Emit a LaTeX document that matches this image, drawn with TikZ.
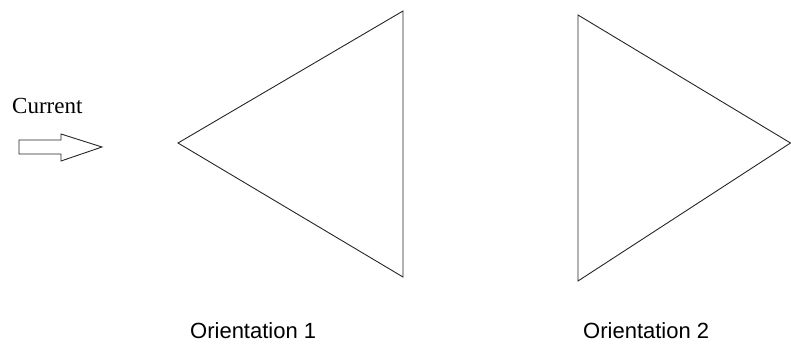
\documentclass[tikz,border=0pt]{standalone}
\usepackage{fontspec}
\setmainfont{Liberation Serif}
\newfontfamily\labelfont{Liberation Sans}
\begin{document}
\begin{tikzpicture}[x=1pt,y=-1pt,
  outline/.style={draw=black!85,line width=0.9pt,line join=miter},
  serlabel/.style={anchor=base west,inner sep=0pt,font=\fontsize{23}{26}\selectfont},
  oriLabel/.style={anchor=base west,inner sep=0pt,font=\labelfont\fontsize{22}{25}\selectfont}]
\useasboundingbox (0,0) rectangle (791,343);
% Current label and hollow arrow
\node[serlabel] (cur) at (12,113) {Current};
\draw[outline] (19,140) -- (61,140) -- (61,134) -- (102,147) -- (61,161) -- (61,154) -- (19,154) -- cycle;
% Orientation 1 triangle
\coordinate (a1) at (178,143);
\coordinate (b1) at (403,11);
\coordinate (c1) at (403,277);
\draw[outline] (a1) -- (b1) -- (c1) -- cycle;
% Orientation 2 triangle
\coordinate (a2) at (578,15);
\coordinate (b2) at (578,281);
\coordinate (c2) at (790.5,143);
\draw[outline] (a2) -- (b2) -- (c2) -- cycle;
% labels
\node[oriLabel] (o1) at (190,338) {Orientation 1};
\node[oriLabel] (o2) at (583,338) {Orientation 2};
\end{tikzpicture}
\end{document}
